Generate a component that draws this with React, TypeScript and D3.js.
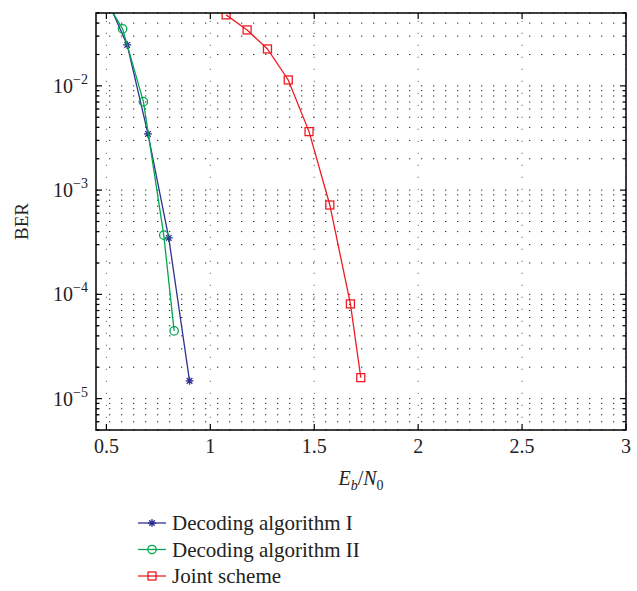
import * as d3 from "d3";

// Decoding algorithm I
const algIx = [0.5, 0.6, 0.7, 0.8, 0.9];
const algIy = [7e-2, 2.47e-2, 3.46e-3, 3.48e-4, 1.48e-5];
// Decoding algorithm II
const algIIx = [0.5, 0.578, 0.678, 0.776, 0.826];
const algIIy = [6.4e-2, 3.52e-2, 7.06e-3, 3.7e-4, 4.46e-5];
// Joint scheme
const jointX = [1.076, 1.177, 1.275, 1.375, 1.475, 1.575, 1.674, 1.724];
const jointY = [4.8e-2, 3.44e-2, 2.26e-2, 1.14e-2, 3.64e-3, 7.2e-4, 8.1e-5, 1.59e-5];

const xTicks = [0.5, 1, 1.5, 2, 2.5, 3];
const xTickLabels = ["0.5", "1", "1.5", "2", "2.5", "3"];
const yExps = [-5, -4, -3, -2];
const legendLabels = ["Decoding algorithm I", "Decoding algorithm II", "Joint scheme"];

const W = 637;
const H = 591;
const margin = { top: 13, right: 11, bottom: 161, left: 96 };
const FONT = "'Liberation Serif', 'DejaVu Serif', serif";

const BLUE = "#2e3192";
const GREEN = "#00a651";
const RED = "#ed1c24";

function starPath(s: number) {
  const d = s * 0.7;
  return `M${-s},0L${s},0M0,${-s}L0,${s}M${-d},${-d}L${d},${d}M${-d},${d}L${d},${-d}`;
}

function Marker({ type, x, y, color }: { type: string; x: number; y: number; color: string }) {
  if (type === "star")
    return <path d={starPath(4)} transform={`translate(${x},${y})`} stroke={color} strokeWidth={1.3} fill="none" />;
  if (type === "circle")
    return <circle cx={x} cy={y} r={4.2} stroke={color} strokeWidth={1.3} fill="none" />;
  return <rect x={x - 4} y={y - 4} width={8} height={8} stroke={color} strokeWidth={1.3} fill="none" />;
}

export default function App() {
  const x = d3.scaleLinear().domain([0.45, 3]).range([margin.left, W - margin.right]);
  const y = d3.scaleLog().domain([5e-6, 5e-2]).range([H - margin.bottom, margin.top]);
  const [x0, x1] = x.range();
  const [y0, y1] = y.range();

  // minor y values inside domain
  const yMinor: number[] = [];
  for (let e = -6; e <= -2; e++) {
    for (let m = 1; m <= 9; m++) {
      const v = m * Math.pow(10, e);
      if (v >= 5e-6 * 0.999 && v <= 5e-2 * 1.001) yMinor.push(v);
    }
  }

  const series = [
    { xs: algIx, ys: algIy, color: BLUE, marker: "star" },
    { xs: algIIx, ys: algIIy, color: GREEN, marker: "circle" },
    { xs: jointX, ys: jointY, color: RED, marker: "square" },
  ];

  const line = d3
    .line<[number, number]>()
    .x((d) => x(d[0]))
    .y((d) => y(d[1]));

  return (
    <svg width={W} height={H} style={{ position: "absolute", left: 0, top: 0 }} fontFamily={FONT}>
      <defs>
        <clipPath id="plot">
          <rect x={x0} y={y1} width={x1 - x0} height={y0 - y1} />
        </clipPath>
      </defs>
      <rect width={W} height={H} fill="#fff" />

      {/* grid */}
      {yMinor.map((v, i) => (
        <line key={"hg" + i} x1={x0} x2={x1} y1={y(v)} y2={y(v)} stroke="#222" strokeWidth={1}
          strokeDasharray="1.3 10.7" strokeDashoffset={11} />
      ))}
      {xTicks.map((v, i) => (
        <line key={"vg" + i} x1={x(v)} x2={x(v)} y1={y0} y2={y1} stroke="#777" strokeWidth={1}
          strokeDasharray="1.3 10.7" />
      ))}

      {/* series */}
      <g clipPath="url(#plot)">
        {series.map((s, i) => {
          const pts = s.xs.map((v, j) => [v, s.ys[j]] as [number, number]);
          return (
            <g key={"s" + i}>
              <path d={line(pts) || ""} fill="none" stroke={s.color} strokeWidth={1.3} />
              {pts.map((p, j) => (
                <Marker key={j} type={s.marker} x={x(p[0])} y={y(p[1])} color={s.color} />
              ))}
            </g>
          );
        })}
      </g>

      {/* ticks */}
      {yMinor.map((v, i) => {
        const major = yExps.some((e) => Math.abs(v - Math.pow(10, e)) < 1e-12);
        const len = major ? 6 : 3.5;
        return (
          <g key={"yt" + i} stroke="#000" strokeWidth={1.2}>
            <line x1={x0} x2={x0 + len} y1={y(v)} y2={y(v)} />
            <line x1={x1} x2={x1 - len} y1={y(v)} y2={y(v)} />
          </g>
        );
      })}
      {xTicks.map((v, i) => (
        <g key={"xt" + i} stroke="#000" strokeWidth={1.2}>
          <line x1={x(v)} x2={x(v)} y1={y0} y2={y0 - 6} />
          <line x1={x(v)} x2={x(v)} y1={y1} y2={y1 + 6} />
        </g>
      ))}

      {/* frame */}
      <rect x={x0} y={y1} width={x1 - x0} height={y0 - y1} fill="none" stroke="#000" strokeWidth={1.5} />

      {/* tick labels */}
      {xTicks.map((v, i) => (
        <text key={"xl" + i} x={x(v)} y={y0 + 23} textAnchor="middle" fontSize={20} fill="#222">
          {xTickLabels[i]}
        </text>
      ))}
      {yExps.map((e) => (
        <text key={"yl" + e} x={x0 - 8} y={y(Math.pow(10, e)) + 7} textAnchor="end" fontSize={20} fill="#222">
          10
          <tspan fontSize={14} dy={-9}>{"\u2212" + Math.abs(e)}</tspan>
        </text>
      ))}

      {/* axis labels */}
      <text transform={`translate(28,${(y0 + y1) / 2}) rotate(-90)`} textAnchor="middle" fontSize={19} fill="#222">
        BER
      </text>
      <text x={(x0 + x1) / 2} y={y0 + 55} textAnchor="middle" fontSize={20} fill="#222">
        <tspan fontStyle="italic">E</tspan>
        <tspan fontStyle="italic" fontSize={14} dy={5}>b</tspan>
        <tspan dy={-5}>/</tspan>
        <tspan fontStyle="italic">N</tspan>
        <tspan fontSize={14} dy={5}>0</tspan>
      </text>

      {/* legend */}
      {series.map((s, i) => {
        const ly = 523 + i * 26.5;
        return (
          <g key={"lg" + i}>
            <line x1={138} x2={166} y1={ly} y2={ly} stroke={s.color} strokeWidth={1.3} />
            <Marker type={s.marker} x={152} y={ly} color={s.color} />
            <text x={172} y={ly + 7} fontSize={21} fill="#222">
              {legendLabels[i]}
            </text>
          </g>
        );
      })}
    </svg>
  );
}
